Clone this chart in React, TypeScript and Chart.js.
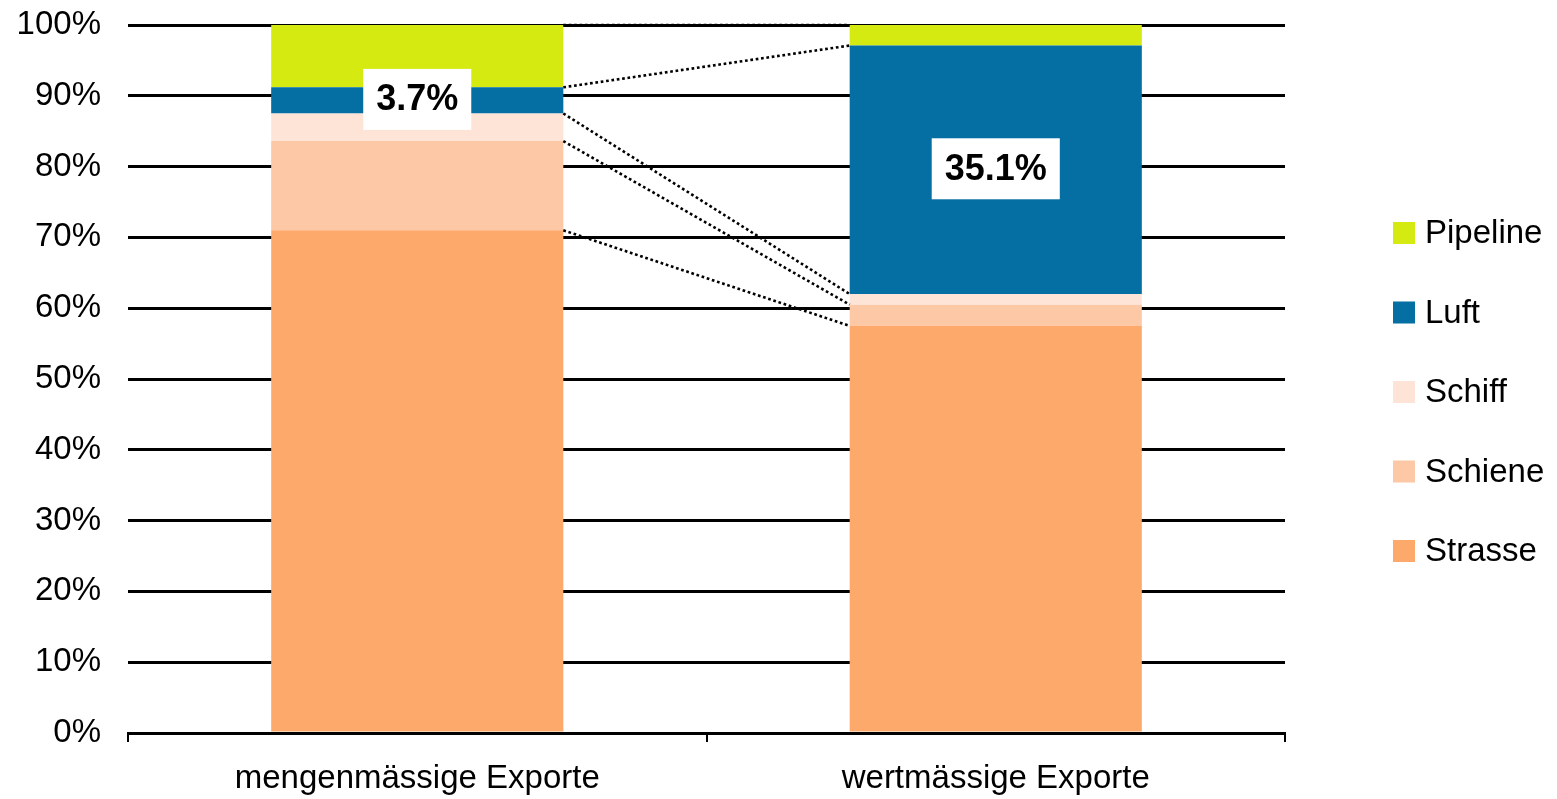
import React, { useEffect, useRef } from "react";
import { Chart, registerables } from "chart.js";

Chart.register(...registerables);

const categories = ["mengenmässige Exporte", "wertmässige Exporte"];
const seriesNames = ["Strasse", "Schiene", "Schiff", "Luft", "Pipeline"];
const strasse = [71.0, 57.5];
const schiene = [12.6, 3.0];
const schiff = [3.9, 1.5];
const luft = [3.7, 35.1];
const pipeline = [8.8, 2.9];
const seriesColors = ["#FCA96B", "#FCC8A6", "#FDE4D6", "#056EA3", "#D4EA10"];
const yTicks = [0, 10, 20, 30, 40, 50, 60, 70, 80, 90, 100];
const labelledSeries = "Luft";

const FONT = "'Liberation Sans', Arial, sans-serif";

const seriesLinesPlugin = {
  id: "seriesLines",
  afterDatasetsDraw(chart: any) {
    const ctx = chart.ctx;
    ctx.save();
    ctx.strokeStyle = "#000";
    ctx.lineWidth = 2.6;
    ctx.setLineDash([2.7, 2.7]);
    chart.data.datasets.forEach((_: any, i: number) => {
      const meta = chart.getDatasetMeta(i);
      const a = meta.data[0] as any;
      const b = meta.data[1] as any;
      if (!a || !b) return;
      ctx.beginPath();
      ctx.moveTo(a.x + a.width / 2, a.y);
      ctx.lineTo(b.x - b.width / 2, b.y);
      ctx.stroke();
    });
    ctx.restore();
  },
};

const valueLabelPlugin = {
  id: "valueLabels",
  afterDatasetsDraw(chart: any) {
    const ctx = chart.ctx;
    const idx = chart.data.datasets.findIndex((d: any) => d.label === labelledSeries);
    if (idx < 0) return;
    const meta = chart.getDatasetMeta(idx);
    const values = chart.data.datasets[idx].data as number[];
    ctx.save();
    ctx.font = `bold 36px ${FONT}`;
    ctx.textAlign = "center";
    ctx.textBaseline = "middle";
    meta.data.forEach((el: any, j: number) => {
      const text = values[j].toFixed(1) + "%";
      const w = ctx.measureText(text).width + 26;
      const h = 61;
      const cx = el.x;
      const cy = (el.y + el.base) / 2 - 1;
      ctx.fillStyle = "#fff";
      ctx.fillRect(cx - w / 2, cy - h / 2, w, h);
      ctx.fillStyle = "#000";
      ctx.fillText(text, cx, cy + 1);
    });
    ctx.restore();
  },
};

const legendPlugin = {
  id: "customLegend",
  afterDraw(chart: any) {
    const ctx = chart.ctx;
    const area = chart.chartArea;
    const x0 = area.right + 108;
    const y0 = area.top + 208;
    const step = 79.5;
    const box = 22;
    ctx.save();
    ctx.font = `33px ${FONT}`;
    ctx.textAlign = "left";
    ctx.textBaseline = "middle";
    const ds = [...chart.data.datasets].reverse();
    ds.forEach((d: any, i: number) => {
      const cy = y0 + i * step;
      ctx.fillStyle = d.backgroundColor;
      ctx.fillRect(x0, cy - box / 2, box, box);
      ctx.fillStyle = "#000";
      ctx.fillText(d.label, x0 + box + 10, cy + 1);
    });
    ctx.restore();
  },
};

export default function App() {
  const ref = useRef<HTMLCanvasElement | null>(null);

  useEffect(() => {
    document.body.style.margin = "0";
    const canvas = ref.current;
    if (!canvas) return;
    const seriesData = [strasse, schiene, schiff, luft, pipeline];
    const chart = new Chart(canvas, {
      type: "bar",
      data: {
        labels: categories,
        datasets: seriesNames.map((name, i) => ({
          label: name,
          data: seriesData[i],
          backgroundColor: seriesColors[i],
          borderWidth: 0,
          categoryPercentage: 1,
          barPercentage: 0.505,
        })),
      },
      options: {
        animation: false,
        responsive: false,
        devicePixelRatio: 1,
        layout: { padding: { left: 0, right: 272, top: 25, bottom: 0 } },
        plugins: {
          legend: { display: false },
          tooltip: { enabled: false },
          title: { display: false },
        },
        scales: {
          x: {
            stacked: true,
            offset: true,
            grid: {
              display: true,
              offset: true,
              drawOnChartArea: false,
              drawTicks: true,
              tickLength: 9,
              color: "#000",
              lineWidth: 2,
            },
            border: { display: true, color: "#000", width: 3 },
            ticks: {
              color: "#000",
              font: { family: FONT, size: 33 },
              padding: 17,
              maxRotation: 0,
              autoSkip: false,
            },
            afterFit(axis: any) {
              axis.height = 66;
            },
          },
          y: {
            stacked: true,
            min: 0,
            max: 100,
            afterBuildTicks(axis: any) {
              axis.ticks = yTicks.map((v) => ({ value: v }));
            },
            grid: {
              color: "#000",
              lineWidth: 3,
              drawTicks: false,
            },
            border: { display: false },
            ticks: {
              color: "#000",
              font: { family: FONT, size: 33 },
              padding: 27,
              callback: (v: any) => `${v}%`,
            },
            afterFit(axis: any) {
              axis.width = 128;
              axis.paddingTop = 0;
              axis.paddingBottom = 0;
            },
          },
        },
      },
      plugins: [seriesLinesPlugin, valueLabelPlugin, legendPlugin],
    });
    return () => chart.destroy();
  }, []);

  return (
    <div style={{ width: 1557, height: 799 }}>
      <canvas ref={ref} width={1557} height={799} style={{ display: "block" }} />
    </div>
  );
}
